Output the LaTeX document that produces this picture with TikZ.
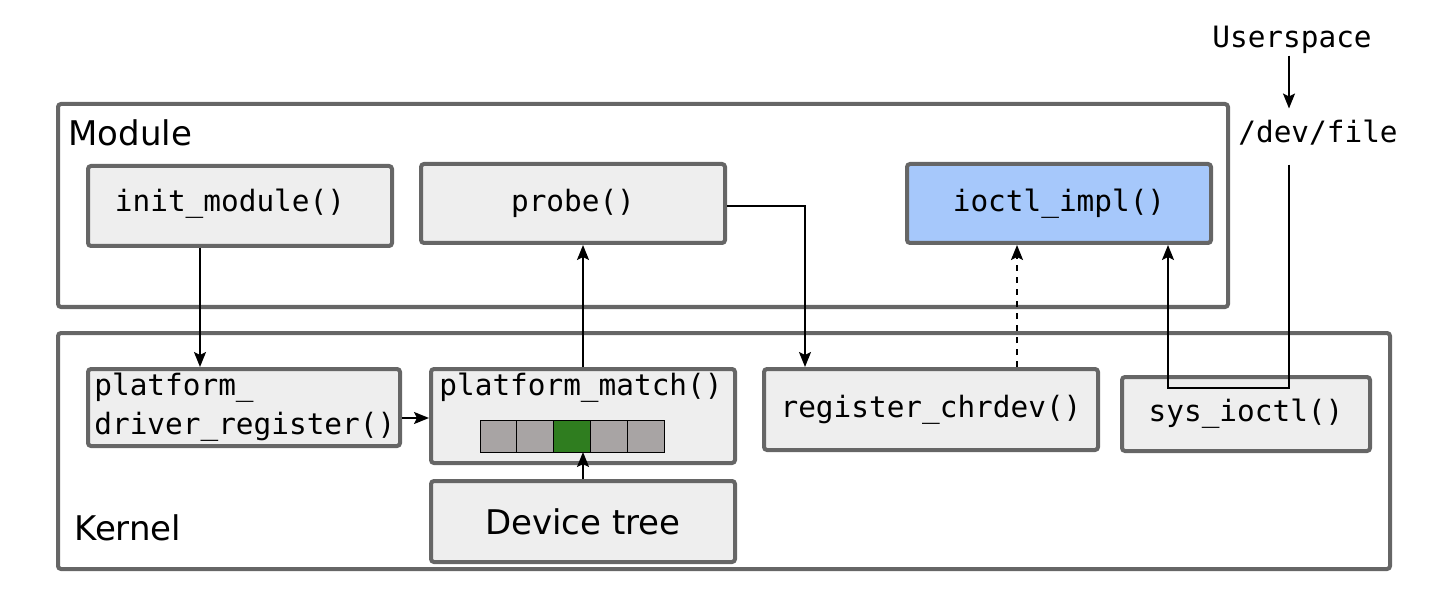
\documentclass[tikz,border=0pt]{standalone}
\usepackage{fontspec}
\setmainfont{DejaVu Sans}
\setmonofont{DejaVu Sans Mono}
\usetikzlibrary{arrows.meta}
\definecolor{bordergray}{HTML}{666666}
\definecolor{boxfill}{HTML}{EEEEEE}
\definecolor{ioctlblue}{HTML}{A6C8FB}
\definecolor{cellgray}{HTML}{A8A4A4}
\definecolor{cellgreen}{HTML}{2F7D1F}
\newcommand{\monofs}{\ttfamily\fontsize{14.7}{19.5}\selectfont}
\newcommand{\sansfs}{\rmfamily\fontsize{17}{20}\selectfont}
\tikzset{
  container/.style={draw=bordergray, line width=2pt, rounded corners=1.5pt, inner sep=0pt},
  fnbox/.style={draw=bordergray, fill=boxfill, line width=2pt, rounded corners=1.5pt, inner sep=0pt, font=\monofs},
  cell/.style={draw=black, line width=0.5pt, fill=cellgray, minimum width=18.4pt, minimum height=16pt, inner sep=0pt, outer sep=0pt},
  arr/.style={draw=black, line width=1pt, -{Stealth[length=7.5pt,width=6pt,inset=1.5pt]}},
  lbl/.style={inner sep=0pt, font=\monofs},
}
\begin{document}
\begin{tikzpicture}[x=0.5pt,y=-0.5pt]
\useasboundingbox (0,0) rectangle (1440,604);
% containers
\node[container, minimum width=585pt, minimum height=101.5pt] (module) at (643,205.5) {};
\node[container, minimum width=666pt, minimum height=118pt] (kernel) at (724,451) {};
\node[anchor=west, inner sep=0pt, font=\sansfs] (modlbl) at (68,133) {Module};
\node[anchor=west, inner sep=0pt, font=\sansfs] (kerlbl) at (74,528) {Kernel};
% function boxes
\node[fnbox, minimum width=152pt, minimum height=40pt] (init) at (240,206) {};
\node[lbl] (inittxt) at (230,204) {init\_module()};
\node[fnbox, minimum width=152pt, minimum height=39.5pt] (probe) at (573,203.5) {probe()};
\node[fnbox, fill=ioctlblue, minimum width=152pt, minimum height=39.5pt] (ioctl) at (1059,203.5) {ioctl\_impl()};
\node[fnbox, minimum width=156pt, minimum height=38.5pt] (pdr) at (244,407.5) {};
\node[lbl, anchor=west, align=left] (pdrtxt) at (94,407.5) {platform\_\\driver\_register()};
\node[fnbox, minimum width=152pt, minimum height=47pt] (pm) at (583,416) {};
\node[lbl, anchor=center] (pmtxt) at (581,388) {platform\_match()};
\node[fnbox, minimum width=167pt, minimum height=40.5pt] (rc) at (931,409.5) {register\_chrdev()};
\node[fnbox, minimum width=124pt, minimum height=37pt] (sys) at (1246,414) {sys\_ioctl()};
\node[fnbox, font=\sansfs, minimum width=152pt, minimum height=40.5pt] (dt) at (583,521.5) {Device tree};
% cells
\node[cell] (c1) at (498.4,436) {};
\node[cell] (c2) at (535.2,436) {};
\node[cell, fill=cellgreen] (c3) at (572,436) {};
\node[cell] (c4) at (608.8,436) {};
\node[cell] (c5) at (645.6,436) {};
% userspace
\node[lbl] (us) at (1292,40) {Userspace};
\node[lbl] (dev) at (1318,133) {/dev/file};
% connectors
\draw[arr] (init.south -| 200,0) -- (pdr.north -| 200,0);
\draw[arr] ([yshift=-5.25pt]pdr.east) -- ([yshift=-5.25pt]pdr.east -| pm.west);
\draw[arr] (pm.north) -- (probe.south -| pm.north);
\draw[arr] (dt.north) -- (c3.south -| dt.north);
\draw[arr] ([yshift=-1.25pt]probe.east) -| (rc.north -| 805,0);
\draw[arr, dashed] (rc.north -| 1017,0) -- (ioctl.south -| 1017,0);
\draw[arr] ([yshift=-0.75pt]us.south -| 1289,0) -- ([yshift=5.75pt]dev.north -| 1289,0);
\draw[arr] ([yshift=-9.25pt]dev.south -| 1289,0) -- (1289,388) -- (1168,388) -- (ioctl.south -| 1168,0);
\end{tikzpicture}
\end{document}
